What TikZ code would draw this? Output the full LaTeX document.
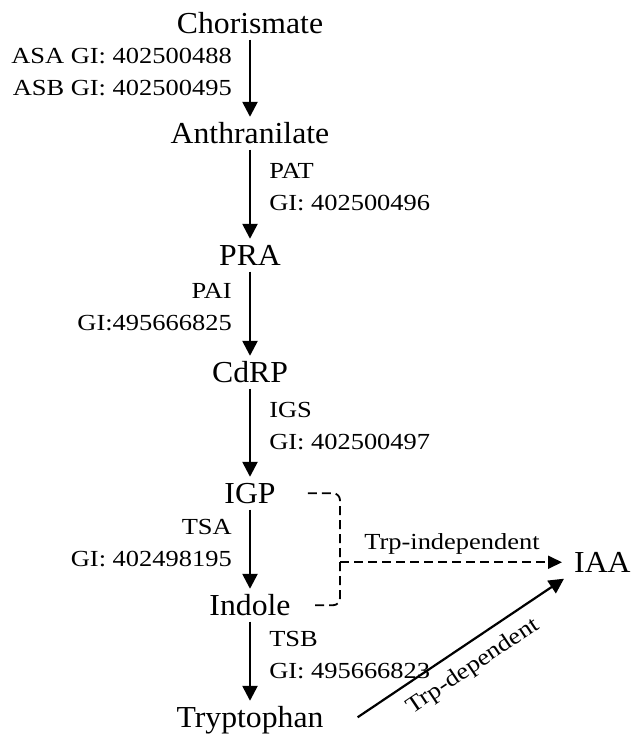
\documentclass[tikz,border=0pt]{standalone}
\usepackage{fontspec}
\setmainfont{Liberation Serif}
\newfontfamily\chemfont[FakeStretch=1.04]{Liberation Serif}
\newfontfamily\enzfont[FakeStretch=1.15]{Liberation Serif}
\usepackage{tikz}
\usetikzlibrary{arrows.meta,positioning}

\tikzset{
    compound/.style={font=\chemfont\fontsize{30.5}{32}\selectfont, inner sep=0pt, text height=26pt, text depth=6.5pt, anchor=base},
    enzyme/.style={font=\enzfont\fontsize{23}{32}\selectfont, inner sep=0pt, pos=0.42},
    enzleft/.style={enzyme, align=right, anchor=east, xshift=-17pt},
    enzright/.style={enzyme, align=left, anchor=west, xshift=18pt},
    pathway/.style={line width=2.5pt, -{Triangle[length=15pt,width=15pt]}},
    route/.style={font=\enzfont\fontsize{23}{32}\selectfont},
    indep/.style={line width=1.8pt, dash pattern=on 9pt off 5pt},
}

\begin{document}
\begin{tikzpicture}[x=1pt, y=1pt]
    \useasboundingbox (0,0) rectangle (631,-734);

    % Compounds of the pathway
    \node[compound] (chor) at (250,-33) {Chorismate};
    \node[compound] (anth) at (250,-143) {Anthranilate};
    \node[compound] (pra) at (250,-265) {PRA};
    \node[compound] (cdrp) at (250,-382) {CdRP};
    \node[compound] (igp) at (250,-503) {IGP};
    \node[compound] (indole) at (250,-615) {Indole};
    \node[compound] (trp) at (250,-727) {Tryptophan};
    \node[compound, anchor=base west, inner xsep=10pt] (iaa) at (564,-572) {IAA};

    % Enzyme steps
    \draw[pathway] (chor) -- node[enzleft] {ASA GI: 402500488\\ASB GI: 402500495} (anth);
    \draw[pathway] (anth) -- node[enzright] {PAT\\GI: 402500496} (pra);
    \draw[pathway] (pra) -- node[enzleft] {PAI\\GI:495666825} (cdrp);
    \draw[pathway] (cdrp) -- node[enzright] {IGS\\GI: 402500497} (igp);
    \draw[pathway] (igp) -- node[enzleft] {TSA\\GI: 402498195} (indole);
    \draw[pathway] (indole) -- node[enzright] {TSB\\GI: 495666823} (trp);

    % Trp-independent route
    \coordinate (brk) at (340,-562.25);
    \draw[indep, rounded corners=7pt] ([xshift=32pt]igp.east) -| (brk) |- ([xshift=22pt]indole.east);
    \draw[indep, -{Triangle[length=14pt,width=13pt]}, shorten >=2pt] (brk) -- node[route, midway, above, inner sep=7pt] {Trp-independent} (iaa.west);

    % Trp-dependent route
    \draw[line width=2.2pt, -{Triangle[length=15pt,width=15pt]}] ([xshift=34pt]trp.east) -- node[route, midway, below, sloped, inner sep=11pt] {Trp-dependent} (iaa.south west);
\end{tikzpicture}
\end{document}
